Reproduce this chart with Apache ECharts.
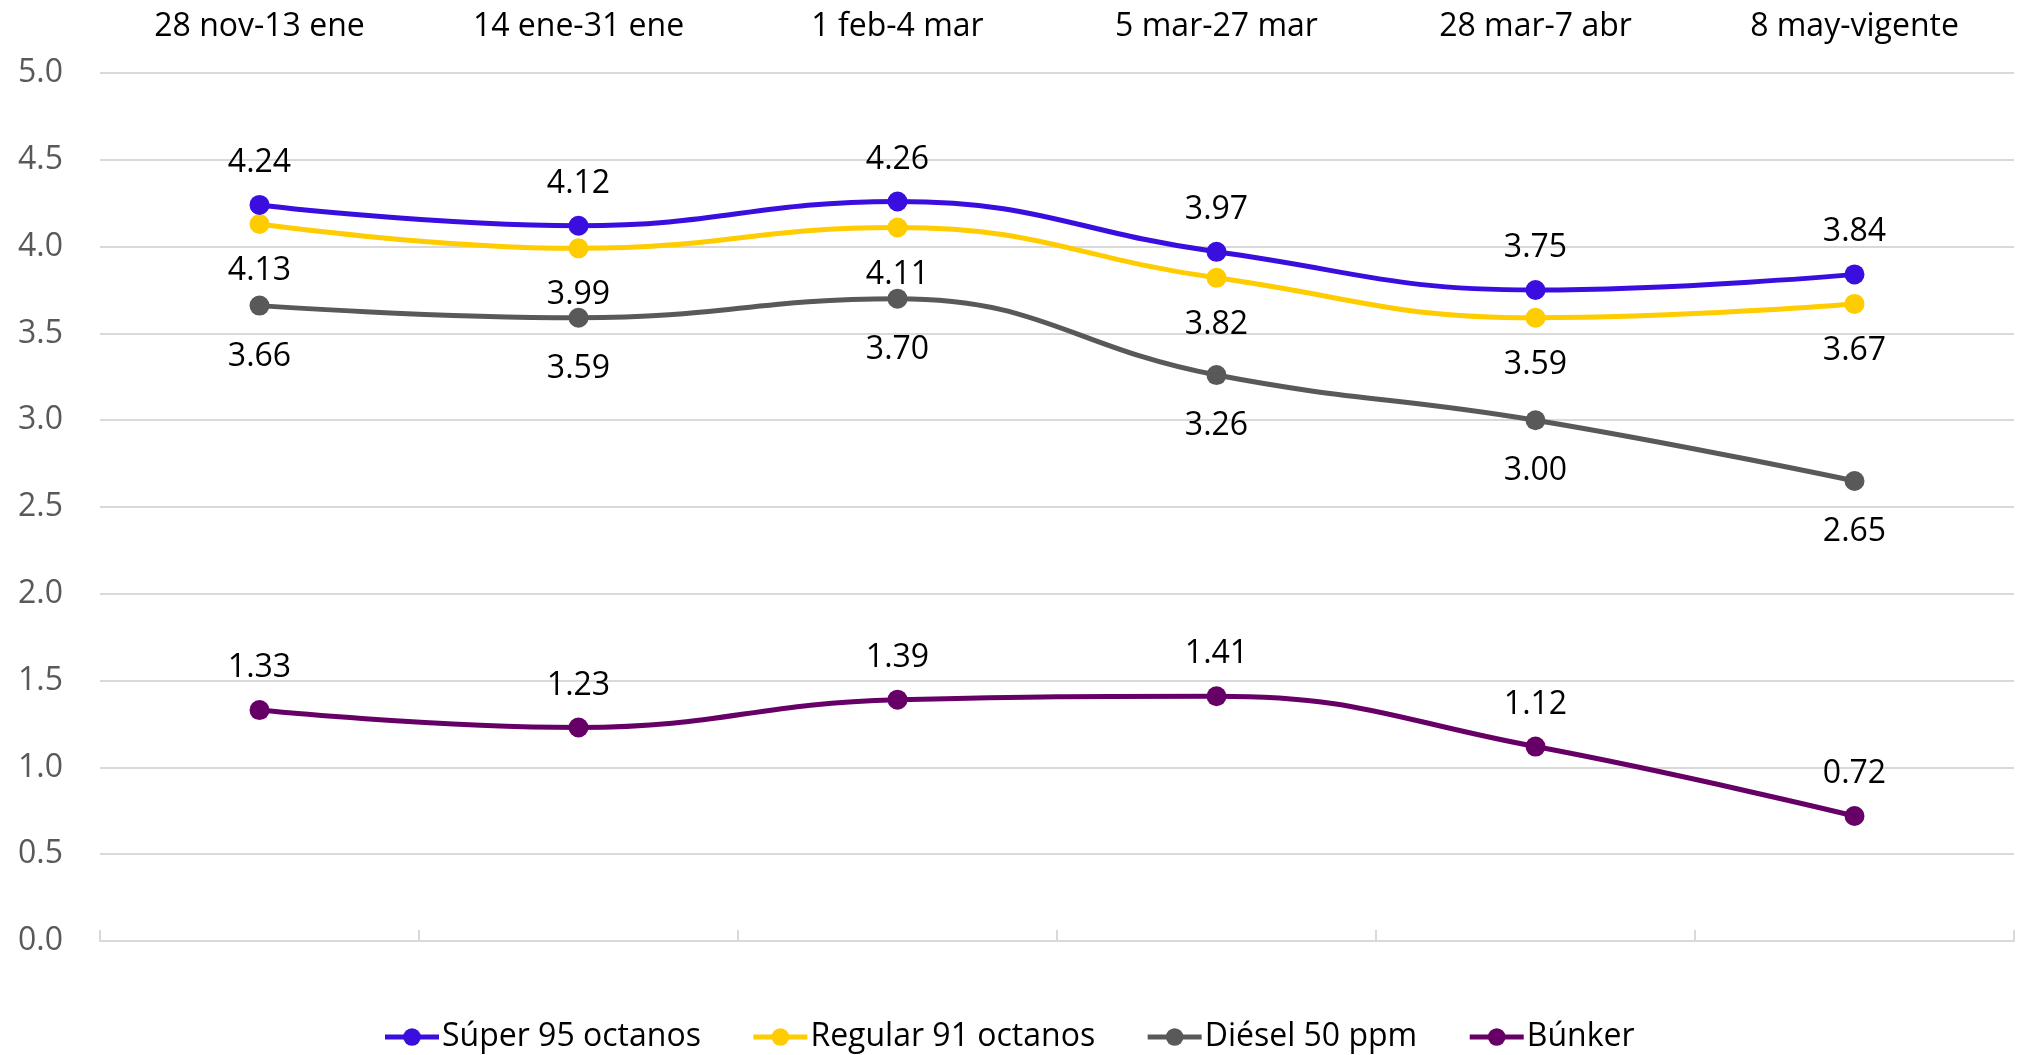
<!DOCTYPE html>
<html>
<head>
<meta charset="utf-8">
<script src="https://cdn.jsdelivr.net/npm/echarts@6/dist/echarts.min.js"></script>
<style>
html,body{margin:0;padding:0;background:#fff;}
#chart{width:2017px;height:1055px;}
</style>
</head>
<body>
<div id="chart"></div>
<script>
const categories = ['28 nov-13 ene', '14 ene-31 ene', '1 feb-4 mar', '5 mar-27 mar', '28 mar-7 abr', '8 may-vigente'];
const seriesNames = ['Súper 95 octanos', 'Regular 91 octanos', 'Diésel 50 ppm', 'Búnker'];
const super95 = [4.24, 4.12, 4.26, 3.97, 3.75, 3.84];
const regular91 = [4.13, 3.99, 4.11, 3.82, 3.59, 3.67];
const diesel50 = [3.66, 3.59, 3.70, 3.26, 3.00, 2.65];
const bunker = [1.33, 1.23, 1.39, 1.41, 1.12, 0.72];
const yTicks = [0, 0.5, 1, 1.5, 2, 2.5, 3, 3.5, 4, 4.5, 5];

const FONT = '"Open Sans", Carlito, Lato, sans-serif';
const FS = 32;
const colors = ['#3a0ede', '#ffcc00', '#595959', '#660066'];
const positions = ['top', 'bottom', 'bottom', 'top'];
const distances = [16, 21, 25, 16];
const datasets = [super95, regular91, diesel50, bunker];

const chart = echarts.init(document.getElementById('chart'));
chart.setOption({
  animation: false,
  backgroundColor: '#ffffff',
  grid: { left: 100, right: 3, top: 73, bottom: 114, containLabel: false },
  legend: {
    bottom: -3,
    left: 'center',
    itemWidth: 54,
    itemHeight: 22,
    itemGap: 50,
    lineStyle: { width: 5 },
    textStyle: { fontFamily: FONT, fontSize: FS, color: '#000000', padding: [0, 0, 0, -2] },
    data: seriesNames
  },
  xAxis: [
    {
      type: 'category',
      data: categories,
      position: 'bottom',
      boundaryGap: true,
      axisLine: { show: true, lineStyle: { color: '#d9d9d9', width: 2 } },
      axisTick: { show: true, inside: true, length: 11, lineStyle: { color: '#d9d9d9', width: 2 } },
      axisLabel: { show: false }
    },
    {
      type: 'category',
      data: categories,
      position: 'top',
      boundaryGap: true,
      axisLine: { show: false },
      axisTick: { show: false },
      axisLabel: { show: true, margin: 30, fontFamily: FONT, fontSize: FS, color: '#000000' }
    }
  ],
  yAxis: {
    type: 'value',
    min: 0,
    max: 5,
    interval: 0.5,
    axisLine: { show: false },
    axisTick: { show: false },
    splitLine: { show: true, lineStyle: { color: '#d9d9d9', width: 2 } },
    axisLabel: {
      margin: 37,
      fontFamily: FONT,
      fontSize: FS,
      color: '#595959',
      padding: [6, 0, 0, 0],
      formatter: v => yTicks.includes(v) ? v.toFixed(1) : ''
    }
  },
  series: seriesNames.map((name, i) => ({
    name: name,
    type: 'line',
    xAxisIndex: 0,
    data: datasets[i],
    smooth: 0.45,
    symbol: 'circle',
    symbolSize: 20,
    lineStyle: { color: colors[i], width: 5 },
    itemStyle: { color: colors[i] },
    label: {
      show: true,
      position: positions[i],
      distance: distances[i],
      fontFamily: FONT,
      fontSize: FS,
      color: '#000000',
      formatter: p => p.value.toFixed(2)
    },
    z: 10 - i
  }))
});
</script>
</body>
</html>
